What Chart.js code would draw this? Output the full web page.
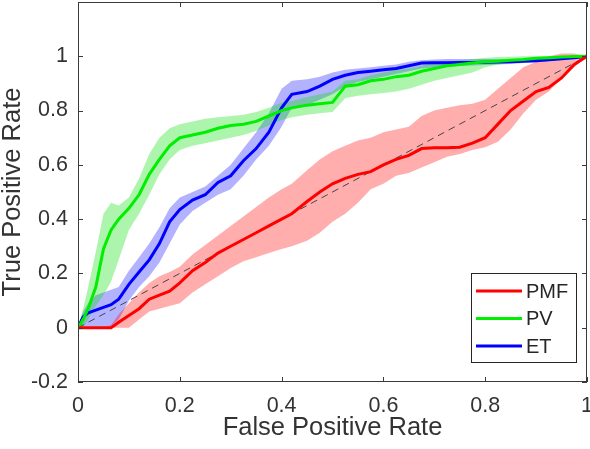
<!DOCTYPE html>
<html>
<head>
<meta charset="utf-8">
<script src="https://cdn.jsdelivr.net/npm/chart.js@4.4.0/dist/chart.umd.min.js"></script>
<style>
  html, body { margin: 0; padding: 0; background: #fff; }
</style>
</head>
<body>
<canvas id="roc" width="590" height="449"></canvas>
<script>
// false positive rate grid shared by the three curves
const fpr = [0, 0.01, 0.02, 0.035, 0.05, 0.065, 0.08, 0.1, 0.12, 0.14, 0.16, 0.18, 0.2, 0.225, 0.25, 0.275, 0.3, 0.325, 0.35, 0.375, 0.4, 0.42, 0.45, 0.475, 0.5, 0.525, 0.55, 0.575, 0.6, 0.625, 0.65, 0.675, 0.7, 0.725, 0.75, 0.775, 0.8, 0.825, 0.85, 0.875, 0.9, 0.925, 0.95, 0.975, 1];

// PMF (red)
const pmfMean = [0, 0, 0, 0, 0, 0, 0.02, 0.045, 0.07, 0.105, 0.12, 0.135, 0.165, 0.21, 0.24, 0.275, 0.30, 0.325, 0.35, 0.375, 0.40, 0.42, 0.465, 0.50, 0.53, 0.55, 0.565, 0.575, 0.60, 0.62, 0.635, 0.66, 0.663, 0.663, 0.665, 0.68, 0.70, 0.75, 0.80, 0.835, 0.87, 0.885, 0.92, 0.97, 1];
const pmfLow = [0, 0, 0, 0, 0, 0, 0, 0, 0.03, 0.06, 0.07, 0.08, 0.09, 0.13, 0.16, 0.19, 0.22, 0.245, 0.26, 0.275, 0.29, 0.30, 0.32, 0.35, 0.39, 0.42, 0.46, 0.51, 0.53, 0.56, 0.57, 0.59, 0.61, 0.63, 0.64, 0.655, 0.665, 0.685, 0.73, 0.79, 0.84, 0.87, 0.92, 0.96, 1];
const pmfHigh = [0, 0, 0, 0, 0, 0.01, 0.05, 0.09, 0.13, 0.165, 0.19, 0.205, 0.225, 0.27, 0.305, 0.34, 0.375, 0.41, 0.445, 0.48, 0.51, 0.53, 0.58, 0.62, 0.65, 0.67, 0.69, 0.70, 0.72, 0.73, 0.74, 0.78, 0.80, 0.81, 0.82, 0.825, 0.84, 0.88, 0.92, 0.96, 0.98, 1.0, 1.01, 1.01, 1];

// PV (green)
const pvMean = [0, 0.03, 0.07, 0.15, 0.29, 0.36, 0.40, 0.44, 0.49, 0.565, 0.62, 0.67, 0.70, 0.71, 0.72, 0.735, 0.745, 0.75, 0.76, 0.78, 0.80, 0.81, 0.82, 0.825, 0.83, 0.89, 0.895, 0.91, 0.915, 0.925, 0.93, 0.945, 0.955, 0.965, 0.97, 0.975, 0.98, 0.982, 0.985, 0.988, 0.993, 0.995, 0.997, 0.999, 1];
const pvLow = [0, 0, 0.03, 0.08, 0.12, 0.17, 0.25, 0.36, 0.42, 0.49, 0.565, 0.62, 0.655, 0.67, 0.68, 0.69, 0.70, 0.71, 0.725, 0.745, 0.765, 0.775, 0.785, 0.79, 0.795, 0.845, 0.855, 0.86, 0.865, 0.87, 0.88, 0.895, 0.91, 0.92, 0.93, 0.94, 0.96, 0.97, 0.975, 0.98, 0.985, 0.99, 0.993, 0.996, 1];
const pvHigh = [0, 0.07, 0.15, 0.28, 0.42, 0.46, 0.45, 0.48, 0.55, 0.64, 0.70, 0.735, 0.75, 0.76, 0.77, 0.775, 0.78, 0.785, 0.795, 0.81, 0.83, 0.835, 0.85, 0.86, 0.87, 0.91, 0.915, 0.93, 0.94, 0.95, 0.955, 0.965, 0.975, 0.98, 0.985, 0.99, 0.995, 0.997, 0.998, 1, 1, 1, 1, 1, 1];

// ET (blue)
const etMean = [0, 0.04, 0.055, 0.065, 0.075, 0.085, 0.105, 0.16, 0.205, 0.25, 0.31, 0.39, 0.435, 0.47, 0.49, 0.535, 0.56, 0.615, 0.66, 0.72, 0.81, 0.86, 0.87, 0.89, 0.915, 0.93, 0.94, 0.945, 0.95, 0.955, 0.965, 0.975, 0.976, 0.976, 0.977, 0.977, 0.978, 0.979, 0.98, 0.982, 0.984, 0.987, 0.991, 0.995, 1];
const etLow = [0, 0, 0, 0, 0, 0.005, 0.03, 0.10, 0.15, 0.19, 0.24, 0.31, 0.38, 0.43, 0.46, 0.49, 0.51, 0.56, 0.62, 0.67, 0.74, 0.81, 0.82, 0.84, 0.86, 0.89, 0.905, 0.915, 0.925, 0.935, 0.945, 0.955, 0.96, 0.962, 0.964, 0.966, 0.968, 0.97, 0.972, 0.975, 0.978, 0.982, 0.986, 0.992, 1];
const etHigh = [0, 0.06, 0.09, 0.12, 0.13, 0.14, 0.15, 0.21, 0.26, 0.31, 0.37, 0.44, 0.48, 0.50, 0.52, 0.56, 0.60, 0.66, 0.72, 0.79, 0.88, 0.91, 0.915, 0.925, 0.94, 0.95, 0.955, 0.96, 0.965, 0.97, 0.98, 0.985, 0.988, 0.99, 0.99, 0.99, 0.99, 0.99, 0.99, 0.99, 0.992, 0.994, 0.996, 0.998, 1];

// chance line and axis ticks
const chanceX = [0, 1];
const chanceY = [0, 1];
const xTicks = [0, 0.2, 0.4, 0.6, 0.8, 1];
const yTicks = [-0.2, 0, 0.2, 0.4, 0.6, 0.8, 1];

const FONT = "'Liberation Sans', Arial, sans-serif";
const TEXT = "#333333";
const AXIS = "#3a3a3a";

function pts(xs, ys) {
  return xs.map((x, i) => ({ x: x, y: ys[i] }));
}

const series = [
  { label: "PMF", color: "#ff0000", band: "rgba(255, 0, 0, 0.32)", mean: pmfMean, low: pmfLow, high: pmfHigh },
  { label: "PV", color: "#00ee00", band: "rgba(0, 225, 0, 0.32)", mean: pvMean, low: pvLow, high: pvHigh },
  { label: "ET", color: "#0000ff", band: "rgba(0, 0, 255, 0.30)", mean: etMean, low: etLow, high: etHigh },
];

const datasets = [];
// mean lines first so they sit on top
series.forEach(s => {
  datasets.push({
    label: s.label,
    data: pts(fpr, s.mean),
    borderColor: s.color,
    borderWidth: 3,
    pointRadius: 0,
    tension: 0,
    fill: false,
    legendEntry: true,
  });
});
datasets.push({
  label: "chance",
  data: pts(chanceX, chanceY),
  borderColor: "#444444",
  borderWidth: 1,
  borderDash: [7, 5],
  pointRadius: 0,
  fill: false,
});
// shaded bands: upper edge filled down to the lower edge
series.forEach(s => {
  datasets.push({
    label: s.label + " high",
    data: pts(fpr, s.high),
    borderWidth: 0,
    borderColor: "rgba(0,0,0,0)",
    backgroundColor: s.band,
    pointRadius: 0,
    tension: 0,
    fill: "+1",
  });
  datasets.push({
    label: s.label + " low",
    data: pts(fpr, s.low),
    borderWidth: 0,
    borderColor: "rgba(0,0,0,0)",
    pointRadius: 0,
    tension: 0,
    fill: false,
  });
});

// box, inward ticks and legend in MATLAB style
const matlabAxes = {
  id: "matlabAxes",
  afterDatasetsDraw(chart) {
    const ctx = chart.ctx;
    const a = chart.chartArea;
    const xs = chart.scales.x;
    const ys = chart.scales.y;
    const tl = 5;
    ctx.save();
    ctx.strokeStyle = AXIS;
    ctx.lineWidth = 1;
    ctx.strokeRect(Math.round(a.left) + 0.5, Math.round(a.top) + 0.5, Math.round(a.right - a.left) - 1, Math.round(a.bottom - a.top) - 1);
    ctx.beginPath();
    xTicks.forEach(v => {
      const px = Math.round(xs.getPixelForValue(v)) + 0.5;
      ctx.moveTo(px, a.bottom);
      ctx.lineTo(px, a.bottom - tl);
      ctx.moveTo(px, a.top);
      ctx.lineTo(px, a.top + tl);
    });
    yTicks.forEach(v => {
      const py = Math.round(ys.getPixelForValue(v)) + 0.5;
      ctx.moveTo(a.left, py);
      ctx.lineTo(a.left + tl, py);
      ctx.moveTo(a.right, py);
      ctx.lineTo(a.right - tl, py);
    });
    ctx.stroke();

    // legend box
    const bx = 471, by = 273, bw = 105, bh = 89;
    ctx.fillStyle = "#ffffff";
    ctx.fillRect(bx, by, bw, bh);
    ctx.strokeStyle = "#262626";
    ctx.strokeRect(bx + 0.5, by + 0.5, bw, bh);
    ctx.font = "20px " + FONT;
    ctx.textBaseline = "middle";
    ctx.textAlign = "left";
    const entries = chart.data.datasets.filter(d => d.legendEntry);
    entries.forEach((d, i) => {
      const y = by + 18 + i * 27.5;
      ctx.strokeStyle = d.borderColor;
      ctx.lineWidth = 3;
      ctx.beginPath();
      ctx.moveTo(bx + 5, y);
      ctx.lineTo(bx + 51, y);
      ctx.stroke();
      ctx.fillStyle = "#262626";
      ctx.fillText(d.label, bx + 55, y + 1);
    });
    ctx.restore();
  },
};

function noPad(s) {
  s.paddingLeft = 0;
  s.paddingRight = 0;
  s.paddingTop = 0;
  s.paddingBottom = 0;
}

new Chart(document.getElementById("roc").getContext("2d"), {
  type: "line",
  data: { datasets: datasets },
  options: {
    responsive: false,
    animation: false,
    devicePixelRatio: 1,
    layout: { padding: { top: 2, right: 3, left: 0, bottom: 0 } },
    plugins: {
      legend: { display: false },
      tooltip: { enabled: false },
    },
    scales: {
      x: {
        type: "linear",
        min: 0,
        max: 1,
        afterBuildTicks: s => { s.ticks = xTicks.map(v => ({ value: v })); },
        afterFit: s => { s.height = 67; noPad(s); },
        grid: { display: false, drawTicks: false },
        border: { display: false },
        ticks: {
          color: TEXT,
          font: { family: FONT, size: 21.5 },
          padding: 11,
          maxRotation: 0,
          callback: v => String(Math.round(v * 10) / 10),
        },
        title: {
          display: true,
          text: "False Positive Rate",
          color: TEXT,
          font: { family: FONT, size: 25.5 },
          padding: { top: 0, bottom: 6 },
        },
      },
      y: {
        type: "linear",
        min: -0.2,
        max: 1.2,
        afterBuildTicks: s => { s.ticks = yTicks.map(v => ({ value: v })); },
        afterFit: s => { s.width = 78; noPad(s); },
        grid: { display: false, drawTicks: false },
        border: { display: false },
        ticks: {
          color: TEXT,
          font: { family: FONT, size: 21.5 },
          padding: 10,
          callback: v => String(Math.round(v * 10) / 10),
        },
        title: {
          display: true,
          text: "True Positive Rate",
          color: TEXT,
          font: { family: FONT, size: 25.5, lineHeight: 1 },
          padding: { top: 0, bottom: 0 },
        },
      },
    },
  },
  plugins: [matlabAxes],
});
</script>
</body>
</html>
